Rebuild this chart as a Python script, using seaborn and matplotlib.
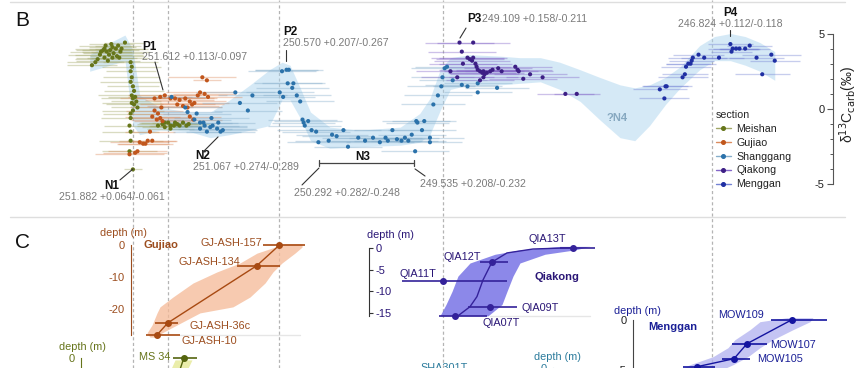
import matplotlib
matplotlib.use('Agg')
import matplotlib.pyplot as plt
import numpy as np
import pandas as pd
import seaborn as sns
from matplotlib.lines import Line2D

sns.set_theme(style='white')
plt.rcParams['font.family'] = ['Liberation Sans', 'DejaVu Sans']
plt.rcParams['axes.unicode_minus'] = False

W, H, EXT = 865, 368, 60
AGE_LEFT, AGE_RIGHT = 253.048, 245.447

# ---- panel B: carbon isotope data (age Ma, d13C permil, half-width of age error)
meishan = [
    (252.24, 2.9, 0.22), (252.21, 3.1, 0.25), (252.19, 3.3, 0.20), (252.17, 3.6, 0.28),
    (252.14, 3.9, 0.24), (252.13, 4.0, 0.26), (252.11, 3.8, 0.22), (252.09, 3.6, 0.30),
    (252.08, 3.9, 0.25), (252.06, 4.1, 0.21), (252.05, 3.7, 0.27), (252.03, 4.0, 0.24),
    (252.01, 4.2, 0.20), (251.99, 3.8, 0.26), (251.98, 4.0, 0.23), (251.95, 4.4, 0.18),
    (252.13, 3.4, 0.25), (252.10, 3.2, 0.28), (252.06, 3.4, 0.22), (252.02, 3.5, 0.24),
    (252.16, 3.8, 0.27), (252.07, 4.3, 0.20), (252.00, 3.4, 0.25), (252.12, 4.2, 0.23),
    (251.90, 3.1, 0.24), (251.89, 2.8, 0.26), (251.90, 2.5, 0.22), (251.89, 2.1, 0.25),
    (251.90, 1.8, 0.27), (251.88, 1.5, 0.23), (251.87, 1.2, 0.26), (251.89, 0.9, 0.30),
    (251.86, 0.8, 0.24), (251.88, 0.7, 0.28), (251.85, 0.5, 0.22), (251.89, 0.4, 0.26),
    (251.87, 0.3, 0.25), (251.84, 0.1, 0.23), (251.88, -0.1, 0.27), (251.90, -0.3, 0.24),
    (251.90, -0.6, 0.26), (251.91, -1.1, 0.22), (251.90, -1.5, 0.25), (251.90, -2.1, 0.28),
    (251.91, -2.8, 0.24), (251.88, -4.0, 0.08),
    (251.66, -1.1, 0.18), (251.62, -1.0, 0.22), (251.60, -1.2, 0.20), (251.57, -0.9, 0.24),
    (251.55, -1.1, 0.19), (251.52, -1.1, 0.21), (251.49, -1.0, 0.18), (251.47, -1.1, 0.22),
    (251.44, -0.9, 0.20), (251.41, -1.1, 0.17), (251.39, -1.0, 0.19), (251.55, -1.3, 0.21),
    (251.51, -0.9, 0.20), (251.60, -0.9, 0.23),
]
gujiao = [
    (251.69, 0.7, 0.30), (251.64, 0.8, 0.28), (251.60, 0.9, 0.32), (251.55, 0.7, 0.30),
    (251.51, 0.7, 0.34), (251.47, 0.6, 0.30), (251.42, 0.7, 0.28), (251.38, 0.5, 0.32),
    (251.34, 0.4, 0.30), (251.31, 0.9, 0.26), (251.29, 1.1, 0.30), (251.25, 1.0, 0.28),
    (251.22, 0.8, 0.30), (251.44, 0.2, 0.32), (251.40, 0.1, 0.30), (251.36, 0.3, 0.28),
    (251.49, 0.3, 0.33), (251.27, 2.1, 0.30), (251.23, 1.9, 0.12), (251.69, -0.1, 0.25),
    (251.66, -0.3, 0.27), (251.71, -0.5, 0.24), (251.64, -0.6, 0.26), (251.62, -0.8, 0.25),
    (251.67, -0.7, 0.23), (251.63, 0.1, 0.28), (251.38, -0.5, 0.27), (251.35, -0.7, 0.25),
    (251.73, -1.5, 0.22), (251.82, -2.2, 0.26), (251.77, -2.3, 0.24), (251.75, -2.1, 0.25),
    (251.71, -2.1, 0.22), (251.79, -2.3, 0.23), (251.91, -3.0, 0.30), (251.86, -2.9, 0.28),
    (251.84, -2.8, 0.26),
]
shanggang = [
    (251.54, 0.8, 0.30), (251.42, 0.1, 0.32), (251.32, -0.3, 0.30), (251.29, -0.9, 0.28),
    (251.25, -1.1, 0.30), (251.20, -1.2, 0.32), (251.18, -1.1, 0.30), (251.14, -1.3, 0.34),
    (251.11, -1.5, 0.30), (251.29, -1.3, 0.28), (251.23, -1.5, 0.30), (251.13, -0.9, 0.32),
    (250.98, 1.1, 0.35), (250.83, 0.9, 0.30), (250.94, 0.4, 0.33), (250.87, -0.1, 0.30),
    (251.40, -0.2, 0.30), (251.34, -0.7, 0.32), (251.26, -0.9, 0.30), (251.19, -0.6, 0.33),
    (251.09, -1.4, 0.30), (250.57, 2.5, 0.30), (250.53, 2.6, 0.28), (250.51, 2.6, 0.30),
    (250.52, 1.7, 0.30), (250.47, 1.7, 0.28), (250.48, 1.4, 0.32), (250.59, 1.1, 0.30),
    (250.44, 0.9, 0.30), (250.56, 0.8, 0.28), (250.41, 0.5, 0.30), (250.39, -0.7, 0.30),
    (250.38, -0.9, 0.28), (250.34, -0.8, 0.30), (250.37, -1.1, 0.32), (250.31, -1.4, 0.30),
    (250.27, -1.5, 0.30), (250.13, -1.7, 0.32), (250.09, -1.8, 0.30), (250.03, -1.4, 0.33),
    (250.16, -2.1, 0.30), (250.25, -2.2, 0.28), (249.99, -2.5, 0.30), (249.90, -1.9, 0.32),
    (249.84, -2.1, 0.30), (249.77, -1.9, 0.33), (249.71, -2.2, 0.30), (249.66, -1.9, 0.32),
    (249.64, -2.1, 0.30), (249.60, -1.4, 0.34), (249.56, -2.0, 0.30), (249.52, -2.1, 0.32),
    (249.49, -1.9, 0.30), (249.46, -2.1, 0.33), (249.43, -1.7, 0.30), (249.39, -0.8, 0.30),
    (249.38, -0.9, 0.28), (249.34, -1.4, 0.30), (249.32, -0.8, 0.28), (249.27, -1.9, 0.30),
    (249.27, -2.2, 0.28), (249.40, -2.8, 0.30), (249.24, 0.3, 0.28), (249.20, 0.9, 0.30),
    (249.17, 1.5, 0.30), (249.16, 2.1, 0.28), (249.14, 2.7, 0.30), (249.12, 2.8, 0.28),
    (249.07, 1.9, 0.30), (248.99, 1.6, 0.32), (248.94, 1.5, 0.30), (248.85, 1.7, 0.30),
    (248.68, 1.4, 0.28), (248.85, 1.1, 0.30),
]
qiakong = [
    (249.01, 4.4, 0.30), (248.89, 4.4, 0.32), (248.99, 3.8, 0.30), (248.94, 3.4, 0.32),
    (248.92, 3.3, 0.30), (248.90, 3.2, 0.33), (248.89, 3.4, 0.30), (248.87, 3.0, 0.32),
    (248.86, 2.8, 0.30), (248.85, 2.6, 0.34), (248.83, 2.5, 0.32), (248.81, 2.4, 0.30),
    (248.80, 2.5, 0.32), (248.79, 2.3, 0.30), (248.77, 2.4, 0.33), (248.74, 2.5, 0.30),
    (248.72, 2.6, 0.32), (248.67, 2.7, 0.30), (248.64, 2.5, 0.32), (248.80, 2.1, 0.30),
    (248.83, 1.9, 0.30), (248.50, 2.6, 0.30), (248.52, 2.8, 0.32), (248.45, 2.0, 0.30),
    (248.28, 2.1, 0.32), (248.98, 3.0, 0.30), (249.09, 2.5, 0.30), (249.03, 2.1, 0.32),
    (248.08, 1.0, 0.25), (247.98, 1.0, 0.20), (248.49, 2.5, 0.30), (248.39, 2.3, 0.32),
]
menggan = [
    (246.63, 4.3, 0.20), (246.61, 4.0, 0.22), (246.58, 4.0, 0.20), (246.55, 4.0, 0.18),
    (246.50, 4.0, 0.22), (246.46, 4.2, 0.20), (246.62, 3.8, 0.18), (246.91, 3.6, 0.22),
    (246.86, 3.4, 0.20), (246.73, 3.4, 0.22), (246.40, 3.4, 0.24), (246.27, 3.6, 0.26),
    (246.24, 3.2, 0.22), (246.35, 2.3, 0.24), (246.96, 3.4, 0.22), (246.97, 3.2, 0.20),
    (246.98, 3.0, 0.22), (247.00, 3.0, 0.20), (247.02, 2.8, 0.22), (247.03, 2.3, 0.20),
    (247.05, 2.1, 0.22), (247.20, 1.5, 0.20), (247.19, 1.5, 0.22), (247.25, 1.3, 0.24),
    (247.21, 0.7, 0.22),
]

# smoothed composite curve, uncertainty envelope
band_age = [252.26, 252.08, 251.95, 251.88, 251.82, 251.64, 251.38, 251.20, 251.03, 250.85,
            250.68, 250.57, 250.50, 250.41, 250.32, 250.15, 249.88, 249.53, 249.36, 249.27,
            249.18, 249.09, 248.92, 248.65, 248.48, 248.30, 248.13, 247.95, 247.78, 247.60,
            247.47, 247.34, 247.20, 247.07, 246.90, 246.77, 246.63, 246.50, 246.37, 246.24]
band_hi = [3.6, 4.4, 4.9, 3.9, 0.9, 0.1, -0.2, -0.2, 0.6, 1.6,
           2.6, 3.1, 2.9, 1.4, -0.2, -1.2, -1.4, -1.2, -0.3, 0.7,
           2.6, 3.4, 3.6, 3.5, 3.4, 3.4, 3.1, 2.6, 2.1, 1.6,
           1.4, 1.6, 2.1, 2.8, 4.2, 4.8, 5.0, 4.8, 4.4, 3.8]
band_lo = [2.5, 2.9, 3.2, -1.1, -1.7, -1.4, -1.5, -1.9, -1.7, -1.4,
           -1.1, 0.6, 0.6, -0.6, -2.1, -2.6, -2.5, -2.4, -2.2, -1.7,
           -0.1, 1.3, 1.6, 1.6, 1.7, 1.8, 1.3, 0.5, -0.7, -1.9,
           -2.1, -1.1, 0.3, 1.4, 2.6, 3.2, 3.2, 2.9, 2.5, 1.9]

guide_ages = [251.88, 251.57, 250.60, 249.155, 246.79]

# ---- panel C: age-depth models
gj_names = ['GJ-ASH-157', 'GJ-ASH-134', 'GJ-ASH-36c', 'GJ-ASH-10']
gj_age = [250.597, 250.790, 251.572, 251.668]
gj_depth = [0.0, -6.3, -24.3, -28.1]
gj_old = [250.737, 250.966, 251.686, 251.765]
gj_young = [250.368, 250.588, 251.484, 251.466]
gj_band_depth = [0.5, -0.5, -2.4, -5.5, -8.3, -11.8, -16.2, -19.3, -21.2, -25.0, -27.5, -28.8]
gj_band_old = [250.544, 250.632, 250.790, 250.939, 251.141, 251.352, 251.528, 251.642,
               251.668, 251.712, 251.756, 251.730]
gj_band_young = [250.394, 250.394, 250.456, 250.570, 250.649, 250.719, 250.851, 251.001,
                 251.291, 251.493, 251.625, 251.668]

qia_names = ['QIA13T', 'QIA12T', 'QIA11T', 'QIA09T', 'QIA07T']
qia_age = [248.013, 248.725, 249.155, 248.742, 249.050]
qia_depth = [0.0, -3.3, -7.6, -13.5, -15.6]
qia_old = [248.127, 248.830, 249.516, 248.936, 249.190]
qia_young = [247.820, 248.584, 248.593, 248.505, 248.769]
qia_band_depth = [0.3, -0.5, -1.5, -3.5, -6.5, -10.0, -13.0, -15.6]
qia_band_old = [248.127, 248.479, 248.698, 248.918, 249.024, 249.076, 249.129, 249.182]
qia_band_young = [247.864, 247.996, 248.259, 248.479, 248.540, 248.593, 248.637, 248.760]
qia_model_depth = [0.0, -0.3, -1.2, -3.3, -7.4, -11.2, -13.5, -15.6]
qia_model_age = [248.013, 248.365, 248.593, 248.725, 248.804, 248.857, 248.918, 249.024]

mow_names = ['MOW109', 'MOW107', 'MOW105', 'MOW104']
mow_age = [246.089, 246.484, 246.598, 246.923]
mow_depth = [0.0, -2.4, -3.9, -4.7]
mow_old = [246.273, 246.616, 246.704, 247.046]
mow_young = [245.781, 246.308, 246.458, 246.765]
mow_band_depth = [0.2, -0.2, -1.0, -2.0, -2.8, -3.7, -4.5, -5.0]
mow_band_old = [246.133, 246.370, 246.458, 246.590, 246.651, 246.783, 246.985, 247.073]
mow_band_young = [245.904, 245.930, 246.080, 246.256, 246.370, 246.475, 246.607, 246.704]

ms_age = [251.431]
ms_depth = [0.0]
ms_old = [251.528]
ms_young = [251.317]
ms_band_depth = [-0.8, -5.0]
ms_band_old = [251.510, 251.560]
ms_band_young = [251.361, 251.414]
ms_model_depth = [0.0, -5.0]
ms_model_age = [251.431, 251.475]

sections = ['Meishan', 'Gujiao', 'Shanggang', 'Qiakong', 'Menggan']
dot_colors = ['#66761a', '#c1561c', '#2b72aa', '#3d1f85', '#1f2fa3']
bar_colors = ['#a1a666', '#dc8c5f', '#86aecb', '#8466c8', '#7482d4']

frames = []
for name, rows in zip(sections, [meishan, gujiao, shanggang, qiakong, menggan]):
    df = pd.DataFrame(rows, columns=['age', 'd13c', 'err'])
    df['section'] = name
    frames.append(df)
data = pd.concat(frames, ignore_index=True)

fig = plt.figure(figsize=(W / 100, H / 100), dpi=100)


def fx(x, y):
    return x / W, 1 - y / H


# ----------------------------------------------------------------- panel B
ax = fig.add_axes([0, 0, 1, 1])
ax.set_xlim(AGE_LEFT, AGE_RIGHT)
ax.set_ylim(-17.154, 7.219)
ax.set_facecolor('none')

for a in guide_ages:
    ax.axvline(a, color='#b4b4b4', lw=0.9, ls=(0, (2.5, 2)), zorder=0)

ax.fill_between(band_age, band_lo, band_hi, color='#a9d3ee', alpha=0.48, lw=0, zorder=1)

for name, bc in zip(sections, bar_colors):
    d = data[data['section'] == name]
    ax.errorbar(d['age'], d['d13c'], xerr=d['err'], fmt='none', ecolor=bc,
                elinewidth=0.95, alpha=0.4, capsize=0, zorder=2)
sns.scatterplot(data=data, x='age', y='d13c', hue='section', hue_order=sections,
                palette=dot_colors, s=9, linewidth=0, legend=False, ax=ax, zorder=3)
ax.set_xlabel('')
ax.set_ylabel('')
ax.set_xticks([])

for s in ['top', 'right', 'bottom']:
    ax.spines[s].set_visible(False)
ax.spines['left'].set_position(('data', 245.728))
ax.spines['left'].set_bounds(-5, 5)
ax.spines['left'].set_color('#555555')
ax.spines['left'].set_linewidth(0.8)
ax.set_yticks([-5, 0, 5])
ax.set_yticklabels(['-5', '0', '5'])
ax.set_yticks(np.arange(-5, 6), minor=True)
ax.tick_params(axis='y', which='major', direction='out', length=4, width=0.8,
               colors='#555555', labelsize=8, labelcolor='#222222', pad=2, left=True)
ax.tick_params(axis='y', which='minor', direction='out', length=2.5, width=0.7,
               colors='#555555', left=True)
ax.text(245.596, 0.3, 'δ$^{13}$C$_{\\rm carb}$(‰)', rotation=90, ha='center',
        va='center', fontsize=10, color='#222222')

# event labels
grey = '#7a7a7a'
bold = dict(fontsize=8.5, fontweight='bold', color='#111111', va='center')
num = dict(fontsize=7.6, color=grey, va='center')
ax.text(252.064, -5.10, 'N1', ha='center', **bold)
ax.text(252.064, -5.83, '251.882 +0.064/-0.061', ha='center', **num)
ax.text(251.80, 4.11, 'P1', ha='left', **bold)
ax.text(251.80, 3.44, '251.612 +0.113/-0.097', ha='left', **num)
ax.text(251.335, -3.11, 'N2', ha='left', **bold)
ax.text(251.352, -3.84, '251.067 +0.274/-0.289', ha='left', **num)
ax.text(250.561, 5.10, 'P2', ha='left', **bold)
ax.text(250.561, 4.37, '250.570 +0.207/-0.267', ha='left', **num)
ax.text(249.858, -3.18, 'N3', ha='center', **bold)
ax.text(249.999, -5.56, '250.292 +0.282/-0.248', ha='center', **num)
ax.text(249.357, -4.97, '249.535 +0.208/-0.232', ha='left', **num)
ax.text(248.944, 5.96, 'P3', ha='left', **bold)
ax.text(248.813, 5.96, '249.109 +0.158/-0.211', ha='left', **num)
ax.text(246.633, 6.36, 'P4', ha='center', **bold)
ax.text(246.633, 5.63, '246.824 +0.112/-0.118', ha='center', **num)
ax.text(247.626, -0.60, '?N4', ha='center', va='center', fontsize=8,
        fontweight='bold', color='#86a8c0')

leaders = [
    ((251.994, 251.879), (-4.70, -3.97)),
    ((251.686, 251.616), (3.11, 1.26)),
    ((251.264, 251.132), (-2.85, -1.85)),
    ((250.535, 250.535), (3.91, 3.18)),
    ((250.394, 250.245), (-5.03, -3.91)),
    ((249.401, 249.313), (-3.97, -4.44)),
    ((248.953, 249.006), (5.36, 4.70)),
    ((246.633, 246.633), (5.23, 4.83)),
]
for xs, ys in leaders:
    ax.plot(xs, ys, color='#333333', lw=0.8, zorder=4)
ax.plot([250.245, 249.410], [-3.58, -3.58], color='#444444', lw=0.9)
ax.plot([250.245, 250.245], [-3.38, -3.78], color='#444444', lw=0.9)
ax.plot([249.410, 249.410], [-3.38, -3.78], color='#444444', lw=0.9)

handles = [Line2D([0], [0], color=bc, lw=1.0, marker='o', ms=2.6, mfc=dc, mec=dc)
           for dc, bc in zip(dot_colors, bar_colors)]
leg = fig.legend(handles, sections, title='section', loc='upper left',
                 bbox_to_anchor=fx(716, 110), frameon=False, fontsize=7.7,
                 title_fontsize=7.7, handlelength=1.4, handletextpad=0.5,
                 labelspacing=0.36, borderaxespad=0, borderpad=0)
leg._legend_box.align = 'left'
for t in leg.get_texts():
    t.set_color('#222222')

# frame lines and panel letters
for y, x0, x1 in [(1.5, 10, 845), (216.5, 10, 845)]:
    fig.add_artist(Line2D([x0 / W, x1 / W], [1 - y / H] * 2, transform=fig.transFigure,
                          color='#dedede', lw=1.0))
fig.text(*fx(15, 21), 'B', fontsize=15, va='center', ha='left', color='#111111')
fig.text(*fx(15, 243), 'C', fontsize=15, va='center', ha='left', color='#111111')


# ----------------------------------------------------------------- panel C
def section_axes(y0, k, spine_age, side, color, ticks, bounds):
    sa = fig.add_axes([0, -EXT / H, 1, (H + EXT) / H], facecolor='none')
    sa.set_xlim(AGE_LEFT, AGE_RIGHT)
    sa.set_ylim((y0 - H - EXT) / k, y0 / k)
    sa.set_xticks([])
    other = 'left' if side == 'right' else 'right'
    for s in ['top', 'bottom', other]:
        sa.spines[s].set_visible(False)
    sa.spines[side].set_position(('data', spine_age))
    sa.spines[side].set_bounds(*bounds)
    sa.spines[side].set_color(color)
    sa.spines[side].set_linewidth(0.8)
    if side == 'right':
        sa.yaxis.tick_right()
    sa.set_yticks(ticks)
    sa.set_yticklabels([f'{t:g}' for t in ticks])
    sa.tick_params(axis='y', direction='out', length=3, width=0.8, colors=color,
                   labelsize=8, pad=1.5)
    return sa


def draw_model(sa, color, band_col, band_d, band_old, band_young, mod_age, mod_d,
               age, depth, old, young, band_alpha=0.75):
    sa.fill_betweenx(band_d, band_old, band_young, color=band_col, alpha=band_alpha, lw=0, zorder=1)
    sns.lineplot(x=mod_age, y=mod_d, sort=False, estimator=None, color=color, lw=1.0,
                 ax=sa, zorder=2)
    a = np.array(age)
    sa.errorbar(a, depth, xerr=[a - np.array(young), np.array(old) - a], fmt='o', ms=4,
                color=color, elinewidth=1.2, capsize=0, zorder=3)
    sa.set_xlabel('')
    sa.set_ylabel('')


gj_col, gj_txt = '#a84a12', '#9c4d1e'
sa = section_axes(245.5, 3.18, 251.897, 'left', gj_txt, [0, -10, -20], (-28, 0))
draw_model(sa, gj_col, '#f5b996', gj_band_depth, gj_band_old, gj_band_young,
           gj_age[::-1], gj_depth[::-1], gj_age, gj_depth, gj_old, gj_young)

qia_col, qia_txt = '#2c168a', '#2a1676'
sa = section_axes(247.7, 4.37, 249.806, 'right', '#333333', [0, -5, -10, -15], (-15.6, 0))
sa.tick_params(axis='y', labelcolor='#2a1676')
draw_model(sa, '#34229a', '#6f6be4', qia_band_depth, qia_band_old, qia_band_young,
           qia_model_age, qia_model_depth, qia_age, qia_depth, qia_old, qia_young,
           band_alpha=0.8)

mow_col, mow_txt = '#1414a0', '#1a1f96'
sa = section_axes(319.7, 10.0, 247.486, 'left', '#444444', [0, -5], (-6, 0))
sa.tick_params(axis='y', labelcolor='#222222')
draw_model(sa, mow_col, '#b1b1ef', mow_band_depth, mow_band_old, mow_band_young,
           mow_age[::-1], mow_depth[::-1], mow_age, mow_depth, mow_old, mow_young)

ms_col, ms_txt = '#55650f', '#66741a'
sa = section_axes(357.5, 3.0, 252.336, 'left', ms_txt, [0], (-12, 0))
draw_model(sa, ms_col, '#e3e78e', ms_band_depth, ms_band_old, ms_band_young,
           ms_model_age, ms_model_depth, ms_age, ms_depth, ms_old, ms_young)

sg_txt = '#2b7b9c'
sa = section_axes(368.0, 3.0, 248.189, 'left', sg_txt, [0], (-12, 0))

# faint guide lines
for y, x0, x1 in [(335, 180, 300), (316, 490, 590)]:
    fig.add_artist(Line2D([x0 / W, x1 / W], [1 - y / H] * 2, transform=fig.transFigure,
                          color='#e6e6e6', lw=1.0, zorder=0))

lab = dict(fontsize=7.8, va='center')
fig.text(*fx(123, 233), 'depth (m)', ha='center', color=gj_txt, **lab)
fig.text(*fx(143, 248), 'Gujiao', ha='left', color=gj_txt, fontweight='bold', fontsize=8)
for n, (x, y, ha) in zip(gj_names, [(262, 243, 'right'), (240, 262, 'right'),
                                    (190, 326, 'left'), (182, 341, 'left')]):
    fig.text(*fx(x, y), n, ha=ha, color=gj_txt, **lab)

fig.text(*fx(390, 235), 'depth (m)', ha='center', color=qia_txt, **lab)
fig.text(*fx(557, 280), 'Qiakong', ha='center', color=qia_txt, fontweight='bold', fontsize=8)
for n, (x, y, ha) in zip(qia_names, [(547, 239, 'center'), (462, 257, 'center'),
                                     (418, 274, 'center'), (522, 308, 'left'),
                                     (501, 323, 'center')]):
    fig.text(*fx(x, y), n, ha=ha, color=qia_txt, **lab)

fig.text(*fx(637, 311), 'depth (m)', ha='center', color=mow_txt, **lab)
fig.text(*fx(673, 330), 'Menggan', ha='center', color=mow_txt, fontweight='bold', fontsize=8)
for n, (x, y, ha) in zip(mow_names, [(741, 315, 'center'), (793, 345, 'center'),
                                     (757, 359, 'left'), (727, 373, 'left')]):
    fig.text(*fx(x, y), n, ha=ha, color=mow_txt, **lab)

fig.text(*fx(82, 347), 'depth (m)', ha='center', color=ms_txt, **lab)
fig.text(*fx(170, 357), 'MS 34', ha='right', color=ms_txt, **lab)

fig.text(*fx(557, 357), 'depth (m)', ha='center', color=sg_txt, **lab)
fig.text(*fx(444, 368), 'SHA301T', ha='center', color=sg_txt, **lab)

fig.savefig('out.png', dpi=100)
